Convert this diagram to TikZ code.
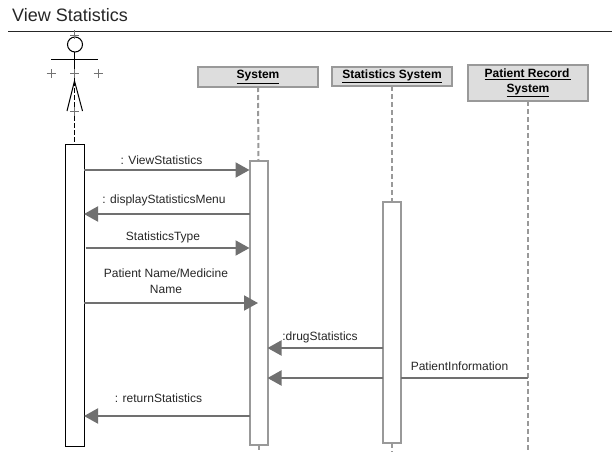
\documentclass[tikz,border=0pt]{standalone}
\usepackage{fontspec}
\setmainfont{Liberation Sans}
\usetikzlibrary{arrows.meta}
\definecolor{boxline}{HTML}{999999}
\definecolor{boxfill}{HTML}{DDDDDD}
\definecolor{msgline}{HTML}{707070}
\tikzset{
  x=1pt,y=-1pt,
  objbox/.style={draw=boxline,line width=2pt,fill=boxfill,inner sep=0pt,outer sep=0pt,align=center,font=\fontsize{12}{15}\selectfont\bfseries},
  actbox/.style={draw=boxline,line width=2pt,fill=white,inner sep=0pt,outer sep=0pt,minimum width=18pt},
  actorbox/.style={draw=black,line width=1pt,fill=white,inner sep=0pt,outer sep=0pt,minimum width=19pt},
  life/.style={draw=boxline,line width=2pt,dash pattern=on 5pt off 3pt},
  msg/.style={draw=msgline,line width=2pt,-{Triangle[length=14pt,width=15pt,fill=msgline]}},
  plainmsg/.style={draw=msgline,line width=2pt},
  lbl/.style={inner sep=0pt,font=\fontsize{12}{15.5}\selectfont,text=black!85,align=center},
  limb/.style={draw=black,line width=1pt},
  crossmark/.style={draw=black!55,line width=.7pt},
}
\begin{document}
\begin{tikzpicture}
\useasboundingbox (0,0) rectangle (612,452);
% title
\node[anchor=west,inner sep=0pt,font=\fontsize{18}{20}\selectfont,text=black!85] (title) at (12,15) {View Statistics};
\coordinate (ruleL) at (8,32);
\coordinate (ruleR) at (612,32);
\draw[line width=1pt,black!85] (ruleL) -- (ruleR);
% actor
\coordinate (head) at (75,44.5);
\coordinate (armL) at (51,59);
\coordinate (armR) at (98,59);
\coordinate (neck) at (74.5,52);
\coordinate (hip) at (74.5,81);
\coordinate (legL) at (67,111);
\coordinate (legR) at (82.5,111);
\node[actorbox,minimum height=302pt] (actor) at (74.5,295) {};
\draw[limb] (head) circle[radius=7.5];
\draw[limb] (armL) -- (armR);
\draw[limb] (neck) -- (hip);
\draw[limb] (legL) -- (hip) -- (legR);
\draw[draw=black,line width=1pt,dash pattern=on 5pt off 2pt] (hip) -- (actor.north);
\foreach \px/\py in {74.5/35,51/73.5,74.5/73.5,98/73.5,74.5/111}{
  \draw[crossmark] (\px-4.5,\py) -- (\px+4.5,\py) (\px,\py-4.5) -- (\px,\py+4.5);
}
% objects
\node[objbox,minimum width=120pt,minimum height=20pt] (sys) at (258,77) {\underline{System}};
\node[objbox,minimum width=120pt,minimum height=19pt] (stat) at (392,76.5) {\underline{Statistics System}};
\node[objbox,minimum width=120pt,minimum height=36pt] (pat) at (528,83) {\underline{Patient Record\,}\\[-0.5pt]\underline{System}};
% activations
\node[actbox,minimum height=284pt] (sysact) at (258.5,303) {};
\node[actbox,minimum height=241pt] (statact) at (392,322.5) {};
% lifeline ends
\coordinate (sysend) at (258.5,452);
\coordinate (statend) at (392,452);
\coordinate (patend) at (528,452);
\draw[life] (sys.south) -- (sysact.north);
\draw[life] (sysact.south) -- (sysend);
\draw[life] (stat.south) -- (statact.north);
\draw[life] (statact.south) -- (statend);
\draw[life] (pat.south) -- (patend);
% message rows
\coordinate (r1) at (0,170);
\coordinate (r2) at (0,214);
\coordinate (r3) at (0,248);
\coordinate (r4) at (0,303);
\coordinate (r5) at (0,348);
\coordinate (r6) at (0,378);
\coordinate (r7) at (0,416);
\coordinate (t4) at (258,303);
\draw[msg] (actor.east |- r1) -- (sysact.west |- r1);
\draw[msg] (sysact.west |- r2) -- (actor.east |- r2);
\draw[msg] ([xshift=1.5pt]actor.east |- r3) -- (sysact.west |- r3);
\draw[msg] (actor.east |- r4) -- (t4);
\draw[msg] (statact.west |- r5) -- (sysact.east |- r5);
\draw[msg] (statact.west |- r6) -- (sysact.east |- r6);
\draw[plainmsg] (statact.east |- r6) -- (pat.south |- r6);
\draw[msg] (sysact.west |- r7) -- (actor.east |- r7);
% labels
\node[lbl] (l1) at (161.5,160) {: ViewStatistics};
\node[lbl] (l2) at (164,200) {: displayStatisticsMenu};
\node[lbl] (l3) at (163,237) {StatisticsType};
\node[lbl] (l4) at (166,281) {Patient Name/Medicine\\Name};
\node[lbl] (l5) at (320,337) {:drugStatistics};
\node[lbl] (l6) at (459.5,366) {PatientInformation};
\node[lbl] (l7) at (158.5,398.5) {: returnStatistics};
\end{tikzpicture}
\end{document}
